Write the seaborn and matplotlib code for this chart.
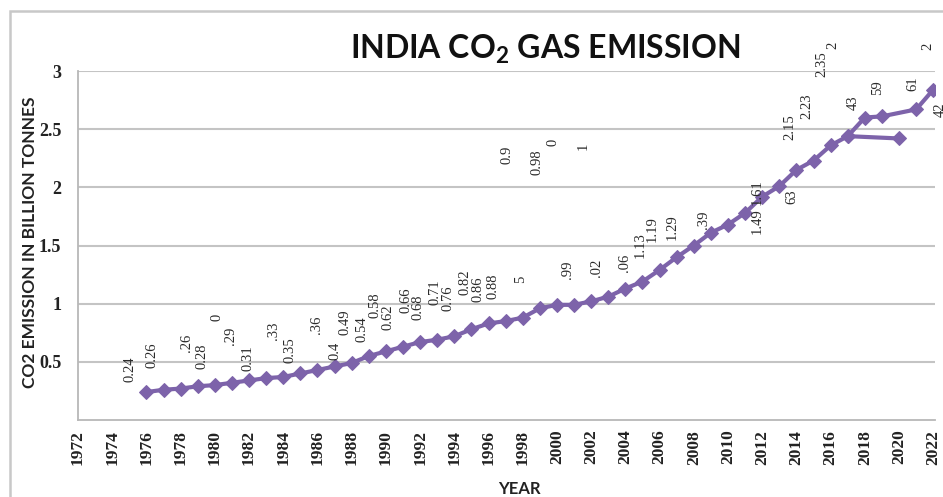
import matplotlib
matplotlib.use("Agg")
import matplotlib.pyplot as plt
import seaborn as sns
import pandas as pd
from matplotlib.patches import Rectangle

# ---------------- data ----------------
years = list(range(1976, 2023))
emission = [0.24, 0.26, 0.27, 0.29, 0.30, 0.32, 0.34, 0.36, 0.37, 0.40,
            0.43, 0.46, 0.49, 0.55, 0.59, 0.63, 0.67, 0.69, 0.72, 0.78,
            0.83, 0.85, 0.88, 0.96, 0.99, 0.99, 1.02, 1.06, 1.13, 1.19,
            1.29, 1.40, 1.50, 1.61, 1.68, 1.78, 1.92, 2.01, 2.15, 2.23,
            2.36, 2.44, 2.60, 2.61, 2.42, 2.67, 2.84]
branch_years = [2017, 2020]          # separate segment drawn in the original
data_labels = ["0.24", "0.26", ".26", "0.28", "0", ".29", "0.31", ".33", "0.35",
               ".36", "0.4", "0.49", "0.54", "0.58", "0.62", "0.66", "0.68",
               "0.71", "0.76", "0.82", "0.86", "0.88", "5", "0.9", "0.98", "0",
               ".99", "1", ".02", ".06", "1.13", "1.19", "1.29", ".39", "1.49",
               "1.61", "63", "2.15", "2.23", "2.35", "2", "43", "59", "61", "2", "42"]
x_ticks = list(range(1972, 2023, 2))
y_ticks = [0.5, 1, 1.5, 2, 2.5, 3]
y_tick_labels = ["0.5", "1", "1.5", "2", "2.5", "3"]
title_text = "INDIA CO$_2$ GAS EMISSION"
x_title = "YEAR"
y_title = "CO2 EMISSION IN BILLION TONNES"

# ---------------- layout (label anchor positions in data units) ----------------
label_pos = [(1975.04, 0.44), (1976.33, 0.56), (1978.37, 0.66), (1979.25, 0.55),
             (1980.13, 0.88), (1980.89, 0.72), (1981.94, 0.53), (1983.40, 0.77),
             (1984.40, 0.60), (1985.92, 0.82), (1987.03, 0.59), (1987.61, 0.84),
             (1988.61, 0.78), (1989.37, 0.99), (1990.13, 0.88), (1991.18, 1.03),
             (1991.88, 0.97), (1992.88, 1.10), (1993.64, 1.05), (1994.63, 1.18),
             (1995.39, 1.12), (1996.27, 1.15), (1997.85, 1.21), (1997.09, 2.28),
             (1998.84, 2.22), (1999.78, 2.39), (2000.60, 1.29), (2001.53, 2.35),
             (2002.29, 1.31), (2003.93, 1.35), (2004.85, 1.50), (2005.55, 1.64),
             (2006.74, 1.66), (2008.55, 1.72), (2011.71, 1.71), (2011.71, 1.96),
             (2013.75, 1.92), (2013.64, 2.52), (2014.63, 2.70), (2015.51, 3.06),
             (2016.15, 3.22), (2017.32, 2.73), (2018.73, 2.86), (2020.83, 2.89),
             (2021.71, 3.21), (2022.41, 2.67)]

sns.set_style("white")
plt.rcParams["mathtext.default"] = "regular"

W, H = 943, 497
fig = plt.figure(figsize=(W / 100, H / 100), dpi=100)
ax = fig.add_axes([78 / W, 1 - 420 / H, 857 / W, 349 / H])

df = pd.DataFrame({"year": years, "emission": emission})
main = df[df["year"] != branch_years[-1]]
branch = df[df["year"].isin(branch_years)]

purple = "#7D63AA"
for part in (main, branch):
    sns.lineplot(data=part, x="year", y="emission", ax=ax, color=purple,
                 linewidth=3.0, marker="D", markersize=7.5,
                 markeredgecolor=purple, sort=False, zorder=3)

for txt, (lx, ly) in zip(data_labels, label_pos):
    ax.text(lx, ly, txt, rotation=90, ha="center", va="center",
            fontsize=10.5, family="Liberation Serif", color="#2a2a2a",
            clip_on=False, zorder=4)

ax.set_xlim(1972, 2022.1)
ax.set_ylim(0, 3)
ax.set_xticks(x_ticks)
ax.set_xticklabels([str(t) for t in x_ticks], rotation=90,
                   family="Liberation Serif", fontweight="bold", fontsize=12.5)
ax.set_yticks(y_ticks)
ax.set_yticklabels(y_tick_labels, family="Liberation Serif",
                   fontweight="bold", fontsize=13)
ax.yaxis.grid(True, color="#c4c4c4", linewidth=1.5)
ax.xaxis.grid(False)
ax.set_xlabel("")
ax.set_ylabel("")
for s in ["top", "right"]:
    ax.spines[s].set_visible(False)
for s in ["left", "bottom"]:
    ax.spines[s].set_color("#b8b8b8")
    ax.spines[s].set_linewidth(1.3)
ax.tick_params(axis="both", which="major", direction="out", length=4,
               color="#b8b8b8", width=1.2, labelcolor="#222222")
ax.tick_params(axis="y", pad=8)
ax.tick_params(axis="x", pad=3)

fig.text(545 / W, 1 - 49 / H, title_text, ha="center", va="center",
         fontsize=23, family="Lato", fontweight="bold", color="#111111")
fig.text(519 / W, 1 - 489 / H, x_title, ha="center", va="center",
         fontsize=12, family="Lato", fontweight="bold", color="#222222")
fig.text(30 / W, 1 - 242 / H, y_title, ha="center", va="center", rotation=90,
         fontsize=12.5, family="Lato", fontweight="bold", color="#222222")

fig.add_artist(Rectangle((10 / W, -0.05), 1.2, 1 - 11 / H + 0.05,
                         transform=fig.transFigure, fill=False,
                         edgecolor="#c8c8c8", linewidth=1.8))

fig.savefig("out.png", dpi=100)
